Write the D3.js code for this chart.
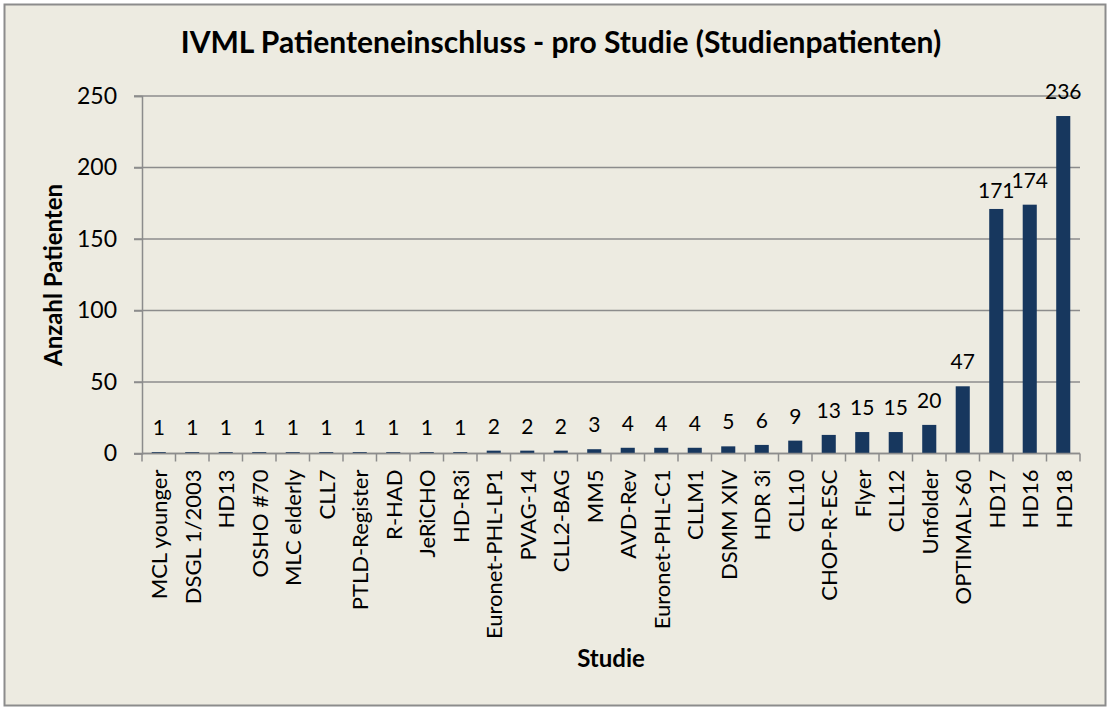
<html>
<head>
  <script src="https://d3js.org/d3.v7.min.js"></script>
  <style>
    body { margin: 0; background: #ffffff; }
    text { font-family: Lato, 'Open Sans', sans-serif; }
  </style>
</head>
<body>
  <div id="chart-container"></div>
  <script>
    // study names, in chart order
    const studies = [
      "MCL younger", "DSGL 1/2003", "HD13", "OSHO #70", "MLC elderly", "CLL7",
      "PTLD-Register", "R-HAD", "JeRiCHO", "HD-R3i", "Euronet-PHL-LP1", "PVAG-14",
      "CLL2-BAG", "MM5", "AVD-Rev", "Euronet-PHL-C1", "CLLM1", "DSMM XIV",
      "HDR 3i", "CLL10", "CHOP-R-ESC", "Flyer", "CLL12", "Unfolder",
      "OPTIMAL>60", "HD17", "HD16", "HD18"
    ];
    // patients per study
    const patients = [
      1, 1, 1, 1, 1, 1,
      1, 1, 1, 1, 2, 2,
      2, 3, 4, 4, 4, 5,
      6, 9, 13, 15, 15, 20,
      47, 171, 174, 236
    ];
    const yTicks = [0, 50, 100, 150, 200, 250];

    const data = studies.map((s, i) => ({ study: s, value: patients[i] }));

    const W = 1109, H = 709;
    const margin = { top: 96, right: 29, bottom: 255.5, left: 142 };
    const width = W - margin.left - margin.right,
      height = H - margin.top - margin.bottom;

    const svg = d3.select("#chart-container")
      .append("svg")
      .attr("width", W)
      .attr("height", H);

    // chart background + frame
    svg.append("rect")
      .attr("x", 4.5).attr("y", 4.5)
      .attr("width", W - 8).attr("height", H - 8)
      .attr("fill", "#edebe1")
      .attr("stroke", "#8c8c8c")
      .attr("stroke-width", 2);

    svg.append("text")
      .attr("x", 561).attr("y", 53)
      .attr("text-anchor", "middle")
      .style("font-size", "30px")
      .style("font-weight", "bold")
      .text("IVML Patienteneinschluss - pro Studie (Studienpatienten)");

    const g = svg.append("g")
      .attr("transform", `translate(${margin.left}, ${margin.top})`);

    const x = d3.scaleBand()
      .domain(studies)
      .range([0, width])
      .paddingInner(0.58)
      .paddingOuter(0.29);

    const y = d3.scaleLinear()
      .domain([0, 250])
      .range([height, 0]);

    // gridlines
    g.append("g")
      .selectAll("line")
      .data(yTicks)
      .join("line")
      .attr("x1", -8).attr("x2", width)
      .attr("y1", d => y(d)).attr("y2", d => y(d))
      .attr("stroke", "#8c8c8c")
      .attr("stroke-width", 1.5);

    // y axis
    const gy = g.append("g")
      .call(d3.axisLeft(y).tickValues(yTicks).tickSize(8).tickPadding(17));
    gy.select(".domain").attr("stroke", "#8c8c8c").attr("stroke-width", 1.5);
    gy.selectAll(".tick line").attr("stroke", "#8c8c8c").attr("stroke-width", 1.5);
    gy.selectAll("text")
      .attr("fill", "#000")
      .style("font-size", "23px");

    // bars
    g.selectAll(".bar")
      .data(data)
      .join("rect")
      .attr("class", "bar")
      .attr("x", d => x(d.study))
      .attr("width", x.bandwidth())
      .attr("y", d => y(d.value))
      .attr("height", d => y(0) - y(d.value))
      .attr("fill", "#17375e");

    // value labels; a label that would collide with its right neighbour
    // (wide 3-digit labels on similar heights) is pushed down a bit
    const labelY = data.map((d, i) => {
      const next = data[i + 1];
      const crowded = next && String(d.value).length > 2 &&
        Math.abs(y(next.value) - y(d.value)) < 12;
      return y(d.value) - (crowded ? 11 : 17);
    });

    g.selectAll(".val")
      .data(data)
      .join("text")
      .attr("class", "val")
      .attr("x", d => x(d.study) + x.bandwidth() / 2)
      .attr("y", (d, i) => labelY[i])
      .attr("text-anchor", "middle")
      .style("font-size", "21px")
      .text(d => d.value);

    // x axis: ticks on category boundaries
    const step = x.step();
    const gx = g.append("g").attr("transform", `translate(0, ${height})`);
    gx.append("line")
      .attr("x1", 0).attr("x2", width)
      .attr("stroke", "#8c8c8c").attr("stroke-width", 1.5);
    gx.selectAll(".bnd")
      .data(d3.range(studies.length + 1))
      .join("line")
      .attr("class", "bnd")
      .attr("x1", i => i * step).attr("x2", i => i * step)
      .attr("y1", 0).attr("y2", 8)
      .attr("stroke", "#8c8c8c").attr("stroke-width", 1.5);
    gx.selectAll(".lbl")
      .data(studies)
      .join("text")
      .attr("class", "lbl")
      .attr("transform", d => `translate(${x(d) + x.bandwidth() / 2 + 8.5}, 16) rotate(-90)`)
      .attr("text-anchor", "end")
      .style("font-size", "22px")
      .text(d => d);

    // axis titles
    svg.append("text")
      .attr("x", margin.left + width / 2).attr("y", 667)
      .attr("text-anchor", "middle")
      .style("font-size", "24px")
      .style("font-weight", "bold")
      .text("Studie");

    svg.append("text")
      .attr("transform", `translate(62, 275) rotate(-90)`)
      .attr("text-anchor", "middle")
      .style("font-size", "24px")
      .style("font-weight", "bold")
      .text("Anzahl Patienten");
  </script>
</body>
</html>
